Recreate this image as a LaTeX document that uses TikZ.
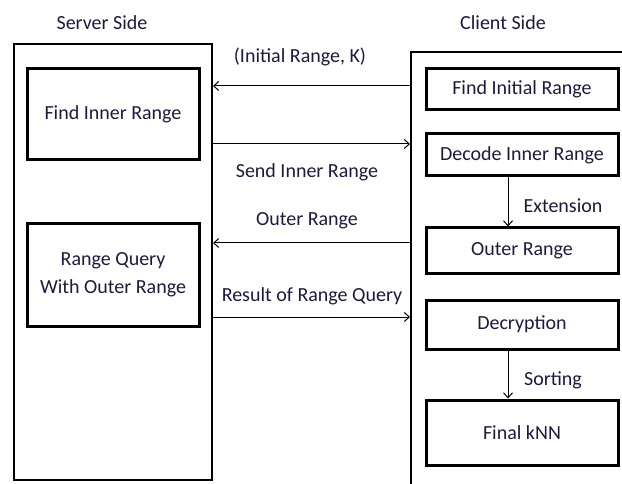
\documentclass[tikz,border=0pt]{standalone}
\usepackage{fontspec}
\setmainfont{Carlito}
\usetikzlibrary{arrows.meta}
\definecolor{txt}{RGB}{28,28,58}
\tikzset{
  side/.style={draw=black, line width=2pt, rectangle, inner sep=0pt},
  stepbox/.style={draw=black, line width=3pt, rectangle, inner sep=0pt,
    font=\fontsize{20}{28}\selectfont, text=txt, align=center},
  lbl/.style={font=\fontsize{20}{24}\selectfont, text=txt, inner sep=0pt},
  msg/.style={line width=1pt, -{Straight Barb[length=5pt,width=9pt]}},
}
\begin{document}
\begin{tikzpicture}[x=1pt, y=-1pt]
  \clip (0,0) rectangle (622,484);
  \fill[white] (0,0) rectangle (622,484);

  % column titles
  \node[lbl] (st) at (102,23) {Server Side};
  \node[lbl] (ct) at (503,23) {Client Side};

  % server and client frames
  \node[side, minimum width=198pt, minimum height=436pt] (server) at (113,262) {};
  \node[side, minimum width=229pt, minimum height=448pt] (client) at (525.5,276) {};

  % server steps
  \node[stepbox, minimum width=172pt, minimum height=91pt] (fir) at (113,114.5) {Find Inner Range};
  \node[stepbox, minimum width=172pt, minimum height=102pt] (rq) at (113,275) {Range Query\\With Outer Range};

  % client steps
  \node[stepbox, minimum width=192pt, minimum height=41pt] (finit) at (522,89.5) {Find Initial Range};
  \node[stepbox, minimum width=192pt, minimum height=42pt] (dec) at (522,155) {Decode Inner Range};
  \node[stepbox, minimum width=192pt, minimum height=46pt] (outer) at (522,251) {Outer Range};
  \node[stepbox, minimum width=192pt, minimum height=49pt] (decr) at (522,324.5) {Decryption};
  \node[stepbox, minimum width=192pt, minimum height=65pt] (knn) at (522,432.5) {Final kNN};

  % message rows
  \coordinate (r1) at (0,86);
  \coordinate (r2) at (0,144);
  \coordinate (r3) at (0,243);
  \coordinate (r4) at (0,317);

  \draw[msg] (client.west |- r1) -- (server.east |- r1);
  \draw[msg] (server.east |- r2) -- (client.west |- r2);
  \draw[msg] (client.west |- r3) -- (server.east |- r3);
  \draw[msg] (server.east |- r4) -- (client.west |- r4);

  \node[lbl] (l1) at (300,57) {(Initial Range, K)};
  \node[lbl] (l2) at (307,172) {Send Inner Range};
  \node[lbl] (l3) at (307,221) {Outer Range};
  \node[lbl] (l4) at (312,296) {Result of Range Query};

  % client-side steps
  \draw[msg] ([xshift=-14pt]dec.south) -- ([xshift=-14pt]outer.north);
  \draw[msg] ([xshift=-14pt]decr.south) -- ([xshift=-14pt]knn.north);
  \node[lbl] (l5) at (563,206) {Extension};
  \node[lbl] (l6) at (553,380) {Sorting};
\end{tikzpicture}
\end{document}
